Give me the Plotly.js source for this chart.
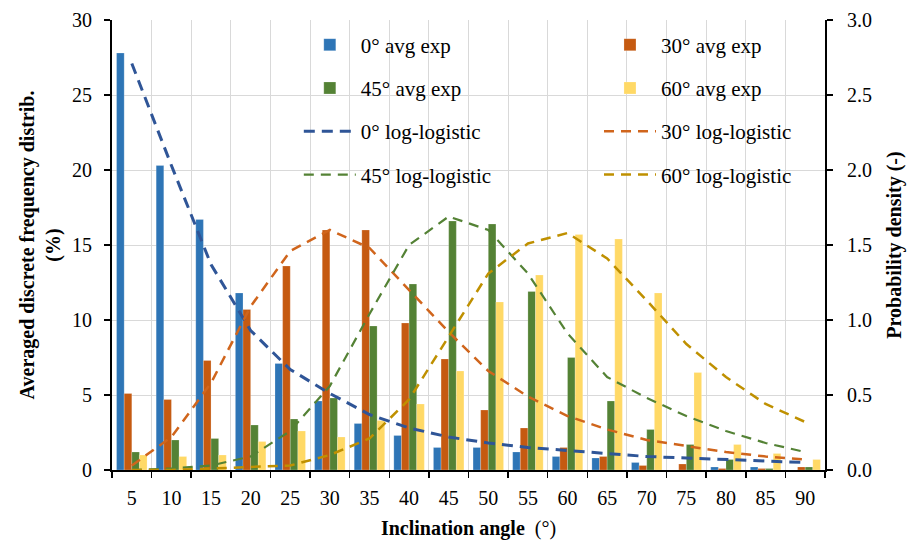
<!DOCTYPE html>
<html>
<head>
<meta charset="utf-8">
<script src="https://cdn.plot.ly/plotly-3.0.1.min.js"></script>
<style>html,body{margin:0;padding:0;background:#fff;}#chart{width:913px;height:543px;}</style>
</head>
<body>
<div id="chart"></div>
<script>
var categories = ["5","10","15","20","25","30","35","40","45","50","55","60","65","70","75","80","85","90"];

var avgExp0  = [27.8, 20.3, 16.7, 11.8, 7.1, 4.6, 3.1, 2.3, 1.5, 1.5, 1.2, 0.9, 0.8, 0.5, 0.0, 0.2, 0.2, 0.0];
var avgExp30 = [5.1, 4.7, 7.3, 10.7, 13.6, 16.0, 16.0, 9.8, 7.4, 4.0, 2.8, 1.5, 0.9, 0.3, 0.4, 0.1, 0.1, 0.2];
var avgExp45 = [1.2, 2.0, 2.1, 3.0, 3.4, 4.8, 9.6, 12.4, 16.6, 16.4, 11.9, 7.5, 4.6, 2.7, 1.7, 0.7, 0.1, 0.2];
var avgExp60 = [1.0, 0.9, 1.0, 1.9, 2.6, 2.2, 3.3, 4.4, 6.6, 11.2, 13.0, 15.7, 15.4, 11.8, 6.5, 1.7, 1.1, 0.7];

var logLog0  = [2.71, 2.03, 1.37, 0.93, 0.67, 0.51, 0.37, 0.28, 0.22, 0.18, 0.15, 0.13, 0.11, 0.09, 0.08, 0.07, 0.06, 0.05];
var logLog30 = [0.03, 0.22, 0.58, 1.09, 1.46, 1.60, 1.48, 1.20, 0.92, 0.66, 0.49, 0.36, 0.27, 0.20, 0.16, 0.12, 0.09, 0.07];
var logLog45 = [0.00, 0.01, 0.03, 0.09, 0.26, 0.56, 1.04, 1.50, 1.69, 1.60, 1.31, 0.91, 0.62, 0.48, 0.36, 0.26, 0.18, 0.12];
var logLog60 = [0.00, 0.00, 0.01, 0.02, 0.03, 0.10, 0.21, 0.47, 0.89, 1.31, 1.51, 1.58, 1.41, 1.13, 0.84, 0.62, 0.44, 0.32];

var seriesNames = ["0° avg exp","30° avg exp","45° avg exp","60° avg exp",
                   "0° log-logistic","30° log-logistic","45° log-logistic","60° log-logistic"];

var barColors  = ["#2E75B6", "#C55A11", "#548235", "#FFD966"];
var lineColors = ["#2F5597", "#D0651C", "#548235", "#BF9000"];
var barData  = [avgExp0, avgExp30, avgExp45, avgExp60];
var lineData = [logLog0, logLog30, logLog45, logLog60];
var legendFor = ["legend", "legend2", "legend", "legend2"];
var lineWidths = [3, 2.5, 2.2, 2.5];

var traces = [];
for (var i = 0; i < 4; i++) {
  traces.push({
    type: "bar", x: categories, y: barData[i], name: seriesNames[i],
    marker: {color: barColors[i], line: {color: "rgba(255,255,255,0.35)", width: 0.6}},
    legend: legendFor[i], legendgroup: "b" + i,
    yaxis: "y", xaxis: "x"
  });
}
for (var j = 0; j < 4; j++) {
  traces.push({
    type: "scatter", mode: "lines", x: categories, y: lineData[j], name: seriesNames[4 + j],
    line: {color: lineColors[j], width: lineWidths[j], dash: j === 0 ? "11px,7px" : "10px,7px"},
    legend: legendFor[j], legendgroup: "l" + j,
    yaxis: "y2", xaxis: "x"
  });
}

var serif = "'Liberation Serif', 'Times New Roman', serif";

var legendCommon = {
  bgcolor: "rgba(0,0,0,0)", borderwidth: 0,
  font: {family: serif, size: 21, color: "#000"},
  tracegroupgap: 13, itemwidth: 52, yanchor: "top", xanchor: "left",
  traceorder: "grouped"
};

var layout = {
  width: 913, height: 543,
  margin: {l: 112, r: 88, t: 20, b: 73, pad: 0},
  paper_bgcolor: "#fff", plot_bgcolor: "#fff",
  font: {family: serif, size: 20, color: "#000"},
  barmode: "group", bargap: 0.23, bargroupgap: 0,
  showlegend: true,
  legend: Object.assign({}, legendCommon, {x: 0.262, y: 0.99}),
  legend2: Object.assign({}, legendCommon, {x: 0.683, y: 0.99}),
  xaxis: {
    type: "category", tickson: "boundaries", ticks: "outside", ticklen: 6, tickwidth: 1.5, tickcolor: "#000",
    showline: true, linecolor: "#000", linewidth: 2, showgrid: true, gridcolor: "#d9d9d9", gridwidth: 1,
    tickfont: {family: serif, size: 20, color: "#000"}, ticklabelstandoff: 9,
    title: {text: "<b>Inclination angle</b>\u00a0\u00a0(°)", font: {family: serif, size: 20, color: "#000"}, standoff: 13},
    zeroline: false
  },
  yaxis: {
    range: [0, 30], tickvals: [0,5,10,15,20,25,30], ticks: "outside", ticklen: 6, tickwidth: 1.5, tickcolor: "#000",
    showline: true, linecolor: "#000", linewidth: 2, showgrid: true, gridcolor: "#d9d9d9", gridwidth: 1,
    tickfont: {family: serif, size: 20, color: "#000"}, ticklabelstandoff: 8, zeroline: false,
    title: {text: "<b>Averaged discrete frequency distrib.<br>(%)</b>", font: {family: serif, size: 20, color: "#000"}, standoff: 6}
  },
  yaxis2: {
    overlaying: "y", side: "right", range: [0, 3], tickvals: [0,0.5,1,1.5,2,2.5,3], ticktext: ["0.0","0.5","1.0","1.5","2.0","2.5","3.0"],
    ticks: "outside", ticklen: 6, tickwidth: 1.5, tickcolor: "#000",
    showline: true, linecolor: "#000", linewidth: 2, showgrid: false, zeroline: false,
    tickfont: {family: serif, size: 20, color: "#000"}, ticklabelstandoff: 10,
    title: {text: "<b>Probability density (-)</b>", font: {family: serif, size: 20, color: "#000"}, standoff: 16}
  }
};

Plotly.newPlot("chart", traces, layout, {displayModeBar: false, staticPlot: true});
</script>
</body>
</html>
